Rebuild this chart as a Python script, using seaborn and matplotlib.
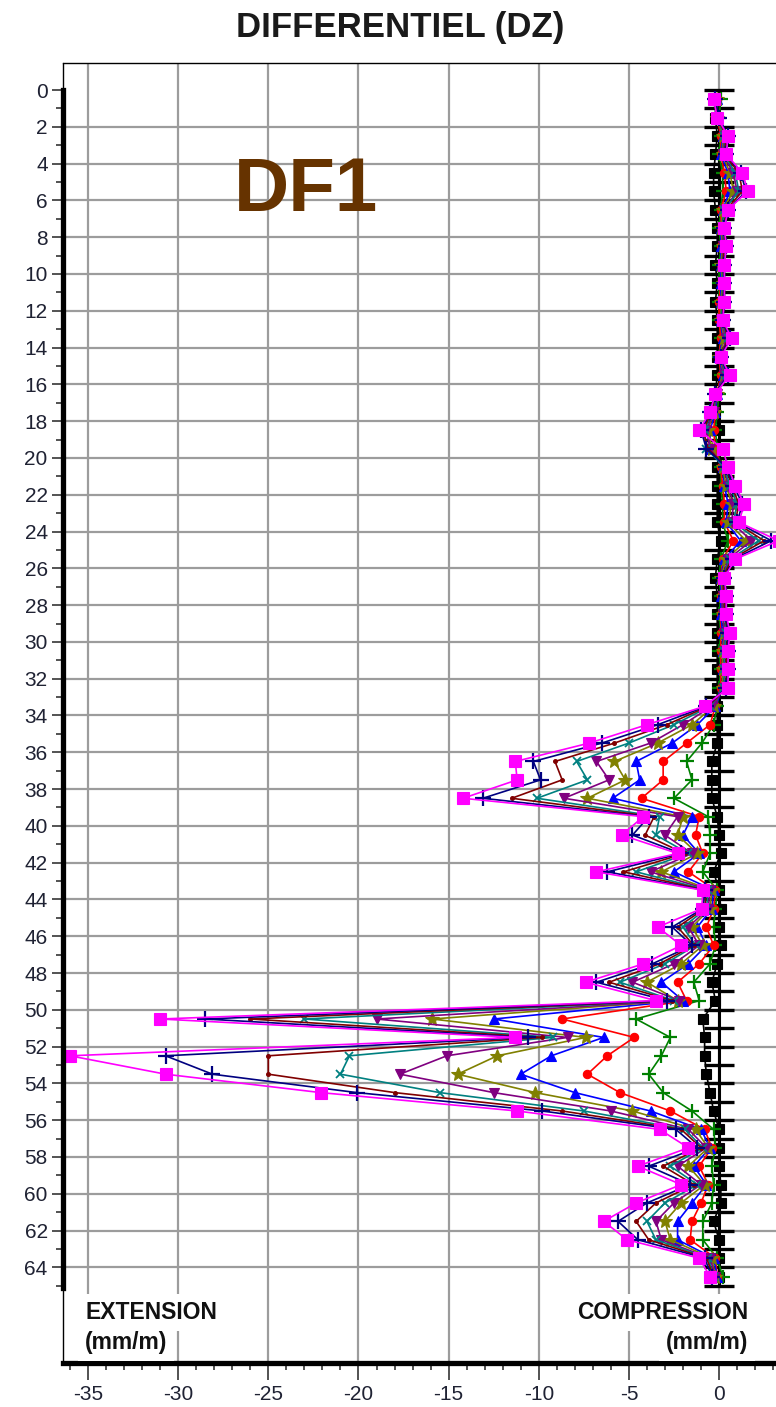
import numpy as np
import pandas as pd
import matplotlib
matplotlib.use("Agg")
import matplotlib.pyplot as plt
import seaborn as sns

# measurement depths (m) and the reference reading line
depths = np.arange(0.5, 65.0, 1.0)
base_depths = list(range(66))
base_values = [0.0] * 66

# readings in mm/m, first row 0.5 - 32.5 m, second row 33.5 - 64.5 m
black = [-0.2, -0.2, -0.1, -0.2, -0.3, -0.3, -0.2, -0.1, -0.1, -0.2, -0.1, -0.2, -0.1, -0.1, -0.1, -0.1, -0.2, -0.2, 0.0, 0.0, -0.1, -0.1, -0.1, -0.1, 0.1, -0.1, -0.2, -0.1, -0.1, -0.1, -0.1, -0.1, -0.1,
         -0.1, -0.1, -0.1, -0.4, -0.4, -0.4, -0.1, 0.0, 0.1, -0.3, 0.0, 0.1, 0.0, 0.1, -0.1, -0.4, -0.2, -0.9, -0.8, -0.8, -0.7, -0.5, -0.3, 0.0, 0.0, 0.0, 0.1, 0.1, -0.3, 0.0, 0.0, 0.0]
green = [0.1, 0.0, 0.1, 0.0, 0.2, 0.2, 0.1, 0.0, 0.1, 0.0, 0.0, 0.0, 0.0, 0.1, 0.0, 0.1, 0.0, -0.1, -0.2, -0.1, 0.1, 0.1, 0.2, 0.2, 0.5, 0.1, 0.0, 0.1, 0.0, 0.1, 0.0, 0.1, 0.0,
         -0.1, -0.3, -0.95, -1.8, -1.5, -2.5, -0.6, -0.5, -0.5, -0.9, -0.1, -0.2, -0.3, -0.2, -0.5, -1.4, -1.1, -4.6, -2.7, -3.2, -3.9, -3.1, -1.5, -0.3, -0.2, -0.4, -0.3, -0.4, -0.9, -0.9, -0.1, 0.2]
red = [-0.1, -0.1, 0.1, 0.1, 0.3, 0.4, 0.1, 0.1, 0.1, 0.1, 0.1, 0.0, 0.0, 0.1, 0.0, 0.1, -0.1, -0.2, -0.3, -0.2, 0.1, 0.2, 0.3, 0.3, 0.8, 0.2, 0.1, 0.1, 0.1, 0.1, 0.1, 0.1, 0.1,
       -0.2, -0.5, -1.8, -3.1, -3.1, -4.3, -1.1, -1.3, -0.9, -1.7, -0.2, -0.3, -0.7, -0.3, -1.1, -2.3, -1.8, -8.7, -4.7, -6.2, -7.3, -5.5, -2.7, -0.8, -0.4, -1.1, -0.6, -1.0, -1.5, -1.6, -0.2, -0.1]
blue = [-0.1, -0.1, 0.2, 0.1, 0.5, 0.6, 0.2, 0.1, 0.1, 0.1, 0.1, 0.1, 0.1, 0.2, 0.0, 0.2, -0.1, -0.2, -0.5, -0.5, 0.2, 0.3, 0.5, 0.4, 1.2, 0.3, 0.1, 0.1, 0.1, 0.2, 0.2, 0.2, 0.2,
        -0.2, -1.2, -2.6, -4.6, -4.4, -5.9, -1.5, -2.0, -1.1, -2.5, -0.3, -0.4, -1.2, -0.7, -1.7, -3.2, -2.0, -12.5, -6.4, -9.3, -11.0, -8.0, -3.8, -1.0, -0.5, -1.4, -0.7, -1.5, -2.3, -2.3, -0.3, -0.1]
olive = [-0.1, -0.1, 0.2, 0.2, 0.6, 0.8, 0.2, 0.1, 0.2, 0.1, 0.2, 0.1, 0.1, 0.3, 0.0, 0.3, -0.1, -0.3, -0.6, -0.4, 0.2, 0.4, 0.7, 0.5, 1.5, 0.4, 0.1, 0.2, 0.2, 0.3, 0.2, 0.2, 0.2,
         -0.3, -1.5, -3.4, -5.8, -5.2, -7.3, -2.0, -2.3, -1.2, -3.2, -0.4, -0.5, -1.5, -0.9, -2.1, -4.0, -2.3, -15.9, -7.4, -12.3, -14.5, -10.2, -4.8, -1.3, -0.6, -1.7, -0.8, -2.1, -3.0, -2.7, -0.4, -0.2]
purple = [-0.2, -0.1, 0.3, 0.2, 0.8, 1.0, 0.3, 0.2, 0.2, 0.2, 0.2, 0.2, 0.1, 0.4, 0.1, 0.3, -0.1, -0.3, -0.7, -0.5, 0.3, 0.5, 0.8, 0.7, 1.8, 0.5, 0.2, 0.2, 0.2, 0.3, 0.3, 0.3, 0.3,
          -0.4, -2.0, -3.8, -6.8, -6.1, -8.6, -2.3, -3.0, -1.5, -3.8, -0.5, -0.6, -1.7, -1.1, -2.5, -4.8, -2.2, -19.0, -8.4, -15.1, -17.7, -12.5, -6.0, -1.7, -0.7, -2.3, -1.0, -2.5, -3.5, -3.2, -0.5, -0.2]
teal = [-0.2, -0.1, 0.3, 0.3, 0.9, 1.1, 0.3, 0.2, 0.3, 0.2, 0.2, 0.2, 0.1, 0.5, 0.1, 0.4, -0.1, -0.4, -0.8, -0.7, 0.3, 0.6, 1.0, 0.8, 2.2, 0.6, 0.2, 0.3, 0.3, 0.4, 0.3, 0.3, 0.3,
        -0.5, -2.5, -5.0, -7.9, -7.3, -10.1, -3.3, -3.5, -1.7, -4.6, -0.6, -0.7, -2.0, -1.3, -3.0, -5.5, -2.5, -23.0, -9.2, -20.5, -21.0, -15.5, -7.5, -1.9, -0.9, -2.7, -1.2, -3.0, -4.0, -3.5, -0.6, -0.3]
brown = [-0.2, -0.1, 0.4, 0.3, 1.1, 1.3, 0.4, 0.3, 0.3, 0.2, 0.3, 0.2, 0.2, 0.5, 0.1, 0.5, -0.2, -0.4, -0.9, -0.6, 0.4, 0.7, 1.1, 0.9, 2.5, 0.7, 0.2, 0.3, 0.3, 0.5, 0.4, 0.4, 0.4,
         -0.6, -2.9, -5.8, -9.1, -8.7, -11.5, -3.6, -4.1, -1.9, -5.3, -0.7, -0.8, -2.3, -1.4, -3.3, -6.1, -2.6, -26.0, -9.8, -25.0, -25.0, -18.0, -8.7, -2.1, -1.0, -3.1, -1.4, -3.5, -4.6, -3.9, -0.7, -0.3]
navy = [-0.2, 0.0, 0.5, 0.4, 1.2, 1.5, 0.5, 0.3, 0.4, 0.3, 0.3, 0.3, 0.2, 0.6, 0.1, 0.5, -0.2, -0.5, -1.0, -0.7, 0.4, 0.8, 1.3, 1.0, 2.9, 0.8, 0.3, 0.4, 0.4, 0.5, 0.5, 0.5, 0.4,
        -0.7, -3.4, -6.5, -10.3, -9.9, -13.1, -3.9, -4.8, -2.1, -6.2, -0.8, -0.9, -2.6, -1.5, -3.7, -6.8, -2.9, -28.5, -10.6, -30.7, -28.1, -20.1, -9.8, -2.4, -1.2, -3.9, -1.6, -4.0, -5.6, -4.5, -0.8, -0.4]
magenta = [-0.3, -0.1, 0.5, 0.4, 1.3, 1.6, 0.5, 0.3, 0.4, 0.3, 0.3, 0.3, 0.2, 0.7, 0.1, 0.6, -0.2, -0.5, -1.1, 0.2, 0.5, 0.9, 1.4, 1.1, 3.3, 0.9, 0.3, 0.4, 0.4, 0.6, 0.5, 0.5, 0.5,
           -0.8, -4.0, -7.2, -11.3, -11.2, -14.2, -4.2, -5.4, -2.3, -6.8, -0.9, -0.95, -3.4, -2.1, -4.2, -7.4, -3.5, -31.0, -11.3, -36.0, -30.7, -22.1, -11.2, -3.3, -1.7, -4.5, -2.1, -4.6, -6.4, -5.1, -1.1, -0.5]

x_ticks = [-35, -30, -25, -20, -15, -10, -5, 0]
y_ticks = list(range(0, 65, 2))

# name, values, colour, marker, marker size, edge width
series = [
    ("black", black, "#000000", "s", 7.5, 0.8),
    ("green", green, "#008000", "+", 10, 1.6),
    ("red", red, "#ff0000", "o", 6, 0.8),
    ("blue", blue, "#0000ff", "^", 7, 0.8),
    ("olive", olive, "#808000", "*", 10, 0.8),
    ("purple", purple, "#800080", "v", 7.5, 0.8),
    ("teal", teal, "#008080", "x", 5.5, 1.3),
    ("brown", brown, "#800000", ".", 5.5, 0.8),
    ("navy", navy, "#000080", "+", 11, 1.6),
    ("magenta", magenta, "#ff00ff", "s", 8, 0.8),
]

sns.set_theme(style="white")
plt.rcParams["font.family"] = ["Liberation Sans", "DejaVu Sans"]

XMIN, XMAX = -36.39, 3.16
YTOP, YBOT = -1.47, 69.2

fig = plt.figure(figsize=(7.76, 14.07), dpi=100)
ax = fig.add_axes([63 / 776, 44 / 1407, 713 / 776, 1300 / 1407])

sns.lineplot(x=base_values, y=base_depths, orient="y", sort=False, estimator=None,
             color="black", marker="_", markersize=22, markeredgewidth=2.4,
             markeredgecolor="black", linewidth=2.2, ax=ax, legend=False)

for name, vals, color, marker, ms, mew in series:
    sns.lineplot(x=vals, y=depths, orient="y", sort=False, estimator=None,
                 color=color, marker=marker, markersize=ms, markeredgecolor=color,
                 markeredgewidth=mew, linewidth=1.2, ax=ax, legend=False)

ax.set_xlim(XMIN, XMAX)
ax.set_ylim(YBOT, YTOP)
ax.set_xticks(x_ticks)
ax.set_xticklabels([str(t) for t in x_ticks])
ax.set_xticks(np.arange(-36, 4, 1), minor=True)
ax.set_yticks(y_ticks)
ax.set_yticklabels([str(t) for t in y_ticks])
ax.set_yticks(np.arange(1, 66, 2), minor=True)
ax.set_xlabel("")
ax.set_ylabel("")

ax.set_axisbelow(True)
ax.grid(True, which="major", color="#9c9c9c", linewidth=1.6)
ax.get_ygridlines()[0].set_visible(False)

ax.tick_params(axis="y", which="major", length=8, width=1.3, color="#444444",
               labelsize=15, labelcolor="#1f2233", pad=3, left=True)
ax.tick_params(axis="y", which="minor", length=5, width=1.3, color="#444444", left=True)
ax.tick_params(axis="x", which="major", length=12, width=1.3, color="#444444",
               labelsize=15, labelcolor="#1f2233", pad=4, bottom=True)
ax.tick_params(axis="x", which="minor", length=5, width=1.3, color="#444444", bottom=True)

for s in ax.spines.values():
    s.set_color("black")
ax.spines["top"].set_linewidth(1)
ax.spines["right"].set_visible(False)
ax.spines["bottom"].set_linewidth(3.8)
ax.spines["left"].set_linewidth(3.8)
ax.spines["left"].set_bounds(0, 65.1)
ax.axvline(XMIN, color="black", linewidth=1, clip_on=False)

box = dict(facecolor="white", edgecolor="none", pad=5)
ax.text(-35.16, 66.45, "EXTENSION", fontsize=16.5, fontweight="bold", color="#111111",
        ha="left", va="center", bbox=box, zorder=6)
ax.text(-35.16, 68.1, "(mm/m)", fontsize=16.5, fontweight="bold", color="#111111",
        ha="left", va="center", bbox=box, zorder=6)
ax.text(1.6, 66.45, "COMPRESSION", fontsize=16.5, fontweight="bold", color="#111111",
        ha="right", va="center", bbox=box, zorder=6)
ax.text(1.6, 68.1, "(mm/m)", fontsize=16.5, fontweight="bold", color="#111111",
        ha="right", va="center", bbox=box, zorder=6)

ax.text(-22.9, 5.5, "DF1", fontsize=55, fontweight="bold", color="#663300",
        ha="center", va="center", zorder=6)

fig.text(400 / 776, 1 - 27 / 1407, "DIFFERENTIEL (DZ)", fontsize=25, fontweight="bold",
         color="#1a1a1a", ha="center", va="center")

fig.savefig("out.png", dpi=100)
